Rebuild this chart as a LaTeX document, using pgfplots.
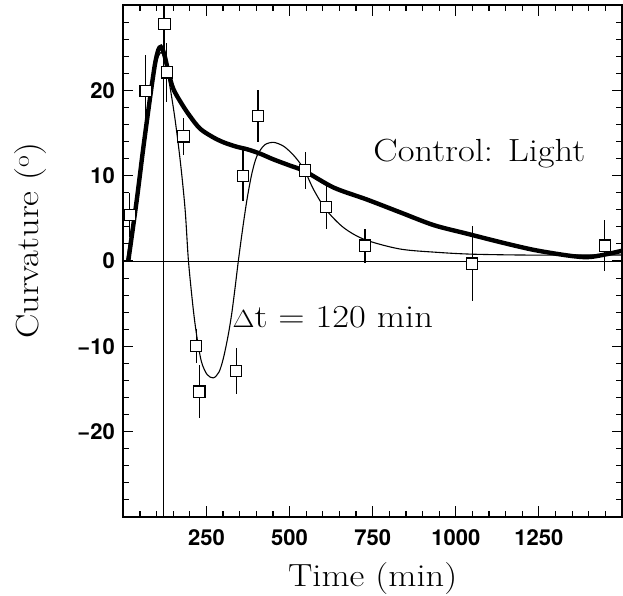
\documentclass[border=0pt]{standalone}
\usepackage{fontspec}
\setsansfont{TeX Gyre Heros}
\usepackage{graphicx}
\usepackage{pgfplots}
\pgfplotsset{compat=1.18}
\usetikzlibrary{calc}
\newcommand{\lbl}[1]{\scalebox{1.14}[1]{\fontsize{32}{34}\selectfont #1}}
\begin{document}
\begin{tikzpicture}
\begin{axis}[
  name=ax,
  scale only axis,
  width=498.7pt, height=512pt,
  xmin=0, xmax=1500, ymin=-30, ymax=30,
  xtick={250,500,750,1000,1250},
  minor xtick={50,100,...,1450},
  ytick={-20,-10,0,10,20},
  yticklabels={−20,−10,0,10,20},
  minor ytick={-28,-26,...,28},
  xtick pos=both, ytick pos=both,
  xtick align=inside, ytick align=inside,
  tickwidth=10pt, subtickwidth=6pt,
  xtick style={black, line width=1.1pt},
  ytick style={black, line width=1.1pt},
  axis line style={line width=1.6pt},
  ticklabel style={font=\sffamily\bfseries\fontsize{22}{22}\selectfont},
  /pgf/number format/assume math mode=true,
  /pgf/number format/1000 sep={},
  xticklabel style={yshift=-9pt},
  yticklabel style={xshift=-5pt},
  xlabel={\lbl{Time (min)}},
  ylabel={\lbl{Curvature (\textsuperscript{o})}},
  xlabel style={at={(axis description cs:0.5,0)}, anchor=center, yshift=-62pt},
  ylabel style={at={(axis description cs:-0.187,0.54)}, anchor=center},
  clip=true,
]
% zero line and pulse marker
\addplot[black, line width=0.7pt] coordinates {(0,0) (1500,0)};
\addplot[black, line width=0.9pt] coordinates {(120,-30) (120,30)};
% control: light (thick)
\addplot[black, line width=4.4pt, smooth, tension=0.5] coordinates {
(15,0) (40,7) (60,13.2) (80,19) (95,23) (105,24.7) (113,25.1) (122,24.4)
(135,22.3) (150,20.2) (176,18.4) (200,17) (231,15.5) (270,14.5) (302,13.9)
(340,13.4) (372,13.1) (410,12.6) (452,11.9) (500,11.2) (547,10.5) (633,8.6)
(733,7.2) (833,5.7) (934,4.2) (1034,3.2) (1135,2.2) (1235,1.3) (1336,0.65)
(1396,0.45) (1448,0.75) (1500,1.2)};
% delta t = 120 min (thin)
\addplot[black, line width=1.1pt, smooth, tension=0.5] coordinates {
(10,0) (40,7.8) (70,16.2) (95,22.6) (112,24.4) (124,23.6) (140,20.5)
(156,16.5) (172,11.5) (186,6) (196,0) (210,-5.5) (221,-8.8) (235,-11.8)
(252,-13.3) (271,-13.7) (288,-13) (301,-11.4) (315,-8.8) (326,-6.2) (336,-3.2)
(346,0) (358,3.5) (372,7.2) (387,10.3) (402,12.3) (425,13.6) (452,13.9)
(480,13.5) (502,12.8) (525,11.8) (547,10.5) (572,8.4) (610,6.0) (663,3.9)
(727,2.5) (833,1.4) (950,1.0) (1049,0.8) (1200,0.7) (1350,0.7) (1500,0.7)};
% error bars (drawn beneath squares)
\addplot[mark=none, draw=none, forget plot,
  error bars/.cd, y dir=both, y explicit,
  error mark=none, error bar style={draw=black, line width=1.1pt}]
coordinates {
(20,5.4) +- (0,2.6)
(67,19.9) +- (0,4.2)
(124,27.8) +- (0,3.0)
(131,22.1) +- (0,3.5)
(181,14.6) +- (0,2.2)
(219,-10.0) +- (0,2.0)
(229,-15.3) +- (0,3.1)
(340,-12.9) +- (0,2.7)
(360,10.0) +- (0,3.0)
(405,17.0) +- (0,3.0)
(547,10.6) +- (0,2.2)
(610,6.3) +- (0,2.6)
(727,1.8) +- (0,2.0)
(1049,-0.3) +- (0,4.4)
(1448,1.8) +- (0,3.0)
};
% data squares
\addplot[black, only marks, mark=square*, mark size=5.6pt,
  mark options={fill=white, draw=black, line width=1.1pt}]
coordinates {
(20,5.4) (67,19.9) (124,27.8) (131,22.1) (181,14.6) (219,-10.0) (229,-15.3)
(340,-12.9) (360,10.0) (405,17.0) (547,10.6) (610,6.3) (727,1.8) (1049,-0.3)
(1448,1.8)};
\node at (axis cs:1071,12.6) {\lbl{Control: Light}};
\node at (axis cs:630,-6.6) {\lbl{$\Delta$t = 120 min}};
\end{axis}
% x-axis ticks on bottom and top edges of the frame
\foreach \t in {50,100,...,1450}{
  \draw[black, line width=1.2pt] ($(ax.south west)!{\t/1500}!(ax.south east)$) -- ++(0,6pt);
  \draw[black, line width=1.2pt] ($(ax.north west)!{\t/1500}!(ax.north east)$) -- ++(0,-6pt);
}
\foreach \t in {250,500,...,1250}{
  \draw[black, line width=1.2pt] ($(ax.south west)!{\t/1500}!(ax.south east)$) -- ++(0,11pt);
  \draw[black, line width=1.2pt] ($(ax.north west)!{\t/1500}!(ax.north east)$) -- ++(0,-11pt);
}
\pgfresetboundingbox
\path ([shift={(-123.3pt,-78pt)}]ax.south west) rectangle ([shift={(1pt,5pt)}]ax.north east);
\end{tikzpicture}
\end{document}
